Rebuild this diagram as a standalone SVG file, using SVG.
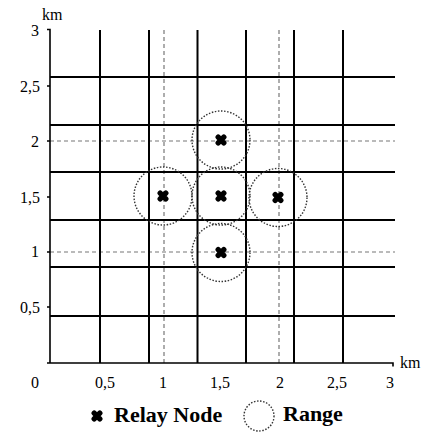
<svg xmlns="http://www.w3.org/2000/svg" width="429" height="432" viewBox="0 0 429 432">
<defs>
<style>
.grid{stroke:#000;stroke-width:2;fill:none}
.axis{stroke:#000;stroke-width:1.6;fill:none}
.dash{stroke:#777;stroke-width:1.2;stroke-dasharray:4 3;fill:none}
.range{stroke:#333;stroke-width:1.4;stroke-dasharray:1.5 1.6;fill:none}
</style>
<path id="relay" d="M-2.8,-2.8 L2.8,2.8 M-2.8,2.8 L2.8,-2.8" stroke="#000" stroke-width="5.4" stroke-linecap="round" fill="none"/>
</defs>
<rect width="429" height="432" fill="#fff"/>
<g id="grid">
<path class="dash" d="M164,30V363 M279,30V363 M50,141H395 M50,252H395"/>
<path class="grid" d="M100,30V363 M149,30V363 M197.5,30V363 M246,30V363 M294,30V363 M343,30V363"/>
<path class="grid" d="M50,77H395 M50,125H395 M50,172H395 M50,220H395 M50,267H395 M50,316H395"/>
</g>
<g id="axes" font-family="'Liberation Serif', 'DejaVu Serif', serif" font-size="16" fill="#000">
<path class="axis" d="M47,29.5H50V363 M47,363H393V366.5"/>
<path class="axis" d="M47,86H50 M47,141H50 M47,197H50 M47,252H50 M47,307H50"/>
<text x="42" y="20">km</text>
<text x="400" y="368">km</text>
<g text-anchor="end">
<text x="39" y="36">3</text>
<text x="40" y="92">2,5</text>
<text x="39" y="147">2</text>
<text x="40" y="203">1,5</text>
<text x="39" y="257">1</text>
<text x="40" y="313">0,5</text>
</g>
<g text-anchor="middle">
<text x="35" y="388">0</text>
<text x="105" y="388">0,5</text>
<text x="163" y="388">1</text>
<text x="220" y="388">1,5</text>
<text x="280" y="388">2</text>
<text x="337" y="388">2,5</text>
<text x="390" y="388">3</text>
</g>
</g>
<g id="node-top">
<circle class="range" cx="221" cy="140" r="29"/>
<use href="#relay" x="221" y="140"/>
</g>
<g id="node-left">
<circle class="range" cx="163" cy="196" r="29"/>
<use href="#relay" x="163" y="196"/>
</g>
<g id="node-center">
<circle class="range" cx="221" cy="196" r="29"/>
<use href="#relay" x="221" y="196"/>
</g>
<g id="node-right">
<circle class="range" cx="278" cy="197.5" r="29"/>
<use href="#relay" x="278" y="197.5"/>
</g>
<g id="node-bottom">
<circle class="range" cx="221" cy="252.5" r="29"/>
<use href="#relay" x="221" y="252.5"/>
</g>
<g id="connectors"></g>
<g id="legend" font-family="'Liberation Serif', 'DejaVu Serif', serif" font-size="22" font-weight="bold" fill="#000">
<use href="#relay" x="97" y="416"/>
<text x="114" y="422">Relay Node</text>
<circle class="range" cx="259" cy="416" r="15"/>
<text x="283" y="421">Range</text>
</g>
</svg>
